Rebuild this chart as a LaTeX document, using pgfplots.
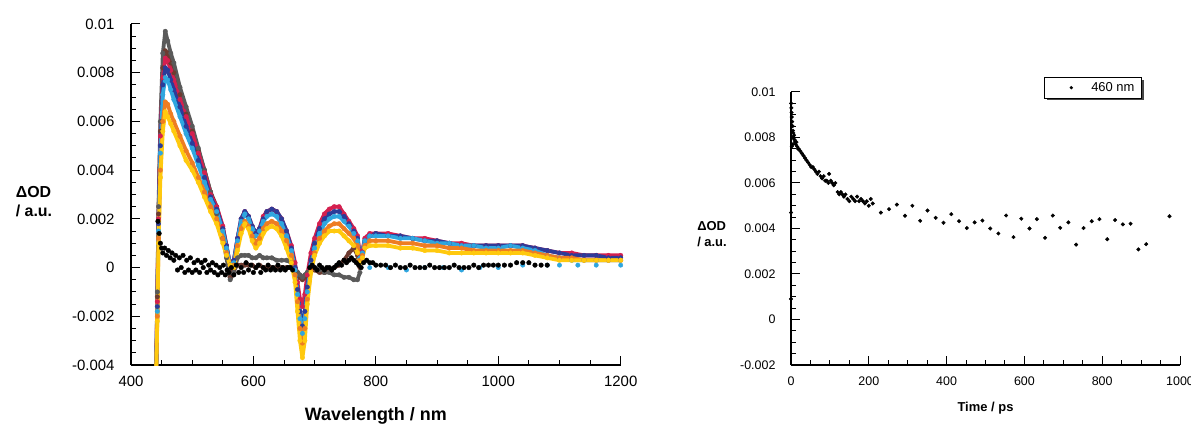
\documentclass[border=0pt]{standalone}
\usepackage{fontspec}
\setmainfont{Liberation Sans}
\usepackage{pgfplots}
\pgfplotsset{compat=1.18}
\usepackage{pgfplotstable}
\usetikzlibrary{shadows}

\definecolor{cgray}{HTML}{5A5A5A}
\definecolor{cbrown}{HTML}{6E3B30}
\definecolor{cred}{HTML}{D4204F}
\definecolor{cblue}{HTML}{2B3C99}
\definecolor{ccyan}{HTML}{2FA6DF}
\definecolor{corange}{HTML}{EE7D22}
\definecolor{cyellow}{HTML}{FFC90E}

% transient spectra, Delta OD vs wavelength (nm)
\pgfplotstableread{
x     gray     brown    red      blue     cyan     orange   yellow
441  -0.0045  -0.0045  -0.0045  -0.0045  -0.0045  -0.0045  -0.0045
443  -0.0010  -0.0012  -0.0014  -0.0016  -0.0018  -0.0020  -0.0022
445   0.0025   0.0022   0.0020   0.0018   0.0015   0.0012   0.0010
448   0.0060   0.0056   0.0054   0.0050   0.0047   0.0040   0.0037
452   0.0088   0.0082   0.0078   0.0075   0.0071   0.0060   0.0056
456   0.0097   0.0089   0.0086   0.0082   0.0078   0.0068   0.0064
460   0.0093   0.0088   0.0085   0.0081   0.0077   0.0067   0.0062
465   0.0088   0.0084   0.0081   0.0077   0.0073   0.0063   0.0059
470   0.0084   0.0080   0.0077   0.0073   0.0069   0.0060   0.0056
480   0.0074   0.0071   0.0069   0.0066   0.0062   0.0054   0.0050
490   0.0066   0.0063   0.0062   0.0058   0.0055   0.0048   0.0044
500   0.0058   0.0056   0.0055   0.0051   0.0049   0.0043   0.0040
510   0.0049   0.0048   0.0047   0.0044   0.0042   0.0037   0.0035
520   0.0040   0.0040   0.0039   0.0037   0.0035   0.0031   0.0029
530   0.0031   0.0031   0.0030   0.0029   0.0028   0.0025   0.0023
540   0.0022   0.0025   0.0025   0.0024   0.0023   0.0020   0.0018
550   0.0012   0.0016   0.0017   0.0016   0.0015   0.0012   0.0010
556   0.0004   0.0008   0.0009   0.0009   0.0008   0.0006   0.0005
562  -0.0005  -0.0004   0.0001   0.0001   0.0001   0.0001   0.0001
568  -0.0002  -0.0001   0.0003   0.0003   0.0002   0.0001   0.0000
574   0.0004   0.0001   0.0012   0.0012   0.0011   0.0009   0.0007
580   0.0005   0.0001   0.0020   0.0020   0.0019   0.0016   0.0014
586   0.0005   0.0001   0.0023   0.0023   0.0022   0.0019   0.0018
592   0.0005   0.0001   0.0021   0.0021   0.0020   0.0017   0.0016
598   0.0004   0.0001   0.0017   0.0017   0.0016   0.0013   0.0011
604   0.0004   0.0000   0.0014   0.0014   0.0013   0.0010   0.0008
610   0.0005   0.0001   0.0016   0.0016   0.0015   0.0012   0.0010
616   0.0004   0.0000   0.0021   0.0020   0.0019   0.0016   0.0014
622   0.0004   0.0000   0.0023   0.0023   0.0021   0.0018   0.0016
630   0.0004   0.0000   0.0024   0.0024   0.0022   0.0019   0.0017
638   0.0003   0.0000   0.0023   0.0023   0.0021   0.0018   0.0016
646   0.0003   0.0000   0.0020   0.0020   0.0018   0.0015   0.0013
654   0.0003   0.0000   0.0015   0.0015   0.0013   0.0011   0.0008
662   0.0002   0.0000   0.0009   0.0008   0.0007   0.0005   0.0002
668   0.0000  -0.0001   0.0002   0.0000  -0.0001  -0.0003  -0.0006
672  -0.0002  -0.0002  -0.0006  -0.0009  -0.0011  -0.0014  -0.0018
676  -0.0003  -0.0004  -0.0013  -0.0018  -0.0021  -0.0025  -0.0030
680  -0.0004  -0.0005  -0.0016  -0.0024  -0.0027  -0.0031  -0.0037
684  -0.0003  -0.0004  -0.0011  -0.0018  -0.0021  -0.0025  -0.0030
688  -0.0002  -0.0002  -0.0003  -0.0008  -0.0010  -0.0013  -0.0015
694  -0.0001  -0.0001   0.0006   0.0003   0.0001  -0.0001  -0.0002
700   0.0000  -0.0001   0.0012   0.0010   0.0008   0.0006   0.0005
708  -0.0001  -0.0002   0.0018   0.0016   0.0014   0.0012   0.0010
716  -0.0002  -0.0002   0.0022   0.0020   0.0018   0.0015   0.0013
724  -0.0002  -0.0001   0.0024   0.0022   0.0020   0.0017   0.0015
732  -0.0003   0.0000   0.0025   0.0023   0.0021   0.0018   0.0015
740  -0.0003   0.0001   0.0025   0.0023   0.0021   0.0018   0.0015
748  -0.0004   0.0003   0.0022   0.0021   0.0019   0.0016   0.0013
756  -0.0004   0.0006   0.0019   0.0018   0.0017   0.0014   0.0011
764  -0.0005   0.0008   0.0016   0.0015   0.0014   0.0012   0.0009
770  -0.0005   0.0005   0.0013   0.0012   0.0011   0.0009   0.0006
774  -0.0002   0.0000   0.0005   0.0004   0.0004   0.0003   0.0002
778   nan      nan      0.0007   0.0006   0.0006   0.0005   0.0004
782   nan      nan      0.0012   0.0011   0.0011   0.0009   0.0008
790   nan      nan      0.0014   0.0013   0.0013   0.0011   0.0009
800   nan      nan      0.0014   0.0014   0.0013   0.0011   0.0009
820   nan      nan      0.0014   0.0013   0.0013   0.0011   0.0009
840   nan      nan      0.0013   0.0013   0.0012   0.0010   0.0008
860   nan      nan      0.0012   0.0012   0.0012   0.0010   0.0008
880   nan      nan      0.0012   0.0011   0.0011   0.0009   0.0007
900   nan      nan      0.0011   0.0011   0.0010   0.0009   0.0007
920   nan      nan      0.0010   0.0010   0.0010   0.0008   0.0006
940   nan      nan      0.0010   0.0009   0.0009   0.0008   0.0006
960   nan      nan      0.0009   0.0009   0.0009   0.0007   0.0006
980   nan      nan      0.0009   0.0009   0.0008   0.0007   0.0006
1000  nan      nan      0.0009   0.0009   0.0008   0.0007   0.0006
1020  nan      nan      0.0009   0.0009   0.0009   0.0007   0.0006
1040  nan      nan      0.0009   0.0009   0.0008   0.0007   0.0006
1060  nan      nan      0.0008   0.0008   0.0007   0.0006   0.0005
1080  nan      nan      0.0007   0.0007   0.0005   0.0005   0.0004
1100  nan      nan      0.0006   0.0006   0.0004   0.0004   0.0003
1120  nan      nan      0.0006   0.0005   0.0003   0.0004   0.0003
1140  nan      nan      0.0005   0.0005   0.0003   0.0003   0.0003
1160  nan      nan      0.0005   0.0005   0.0003   0.0003   0.0003
1180  nan      nan      0.0005   0.0004   0.0003   0.0003   0.0003
1200  nan      nan      0.0005   0.0004   0.0003   0.0003   0.0003
}\spec

% earliest spectrum, scattered around zero
\pgfplotstableread{
x y
444 0.0019
446 0.0014
448 0.0010
450 0.0008
452 0.0006
455 0.0008
458 0.0005
461 0.0007
464 0.0004
467 0.0006
470 0.0003
473 0.0005
476 -0.0001
479 0.0004
482 0.0000
485 0.0005
488 -0.0002
491 0.0003
494 -0.0001
497 0.0004
500 -0.0002
503 0.0002
506 -0.0001
509 0.0003
512 -0.0002
515 0.0002
518 0.0000
521 0.0003
524 -0.0002
527 0.0001
530 -0.0001
533 0.0002
536 -0.0002
539 0.0001
542 -0.0003
545 0.0000
548 -0.0002
551 0.0001
554 -0.0003
557 -0.0001
560 -0.0002
564 0.0000
568 -0.0003
572 0.0001
576 -0.0002
580 0.0000
584 -0.0002
588 0.0002
592 -0.0001
596 0.0001
600 -0.0002
604 0.0000
608 0.0001
612 -0.0002
616 0.0000
620 -0.0001
624 0.0001
628 -0.0001
632 0.0000
636 -0.0001
640 0.0001
644 -0.0001
648 0.0000
652 -0.0001
656 0.0000
660 0.0000
664 -0.0001
692 0.0000
696 0.0001
700 0.0000
704 -0.0001
708 0.0001
712 0.0000
716 -0.0001
720 0.0000
724 0.0000
728 -0.0001
732 0.0000
736 0.0001
740 0.0002
744 0.0001
748 0.0003
752 0.0002
756 0.0003
760 0.0004
764 0.0003
768 0.0002
772 0.0001
776 0.0000
780 0.0002
785 0.0003
790 0.0002
795 0.0002
800 0.0001
808 0.0001
816 0.0001
824 0.0000
832 0.0001
840 0.0000
848 0.0000
856 0.0001
864 0.0000
872 0.0000
880 0.0000
888 0.0001
896 0.0000
904 0.0000
912 0.0000
920 0.0000
928 0.0001
936 0.0000
944 0.0000
952 0.0000
960 0.0001
968 0.0000
976 0.0001
984 0.0001
992 0.0001
1000 0.0001
1010 0.0001
1020 0.0001
1030 0.0002
1040 0.0002
1050 0.0002
1060 0.0001
1070 0.0001
1080 0.0001
}\early

\pgfplotstableread{
x y
790 0.0000
820 0.0000
850 -0.0001
880 0.0000
910 0.0000
940 -0.0001
970 0.0000
1000 0.0000
1040 0.0001
1080 0.0001
1100 0.0001
1130 0.0001
1160 0.0001
1200 0.0001
}\cyanlow

% kinetic trace at 460 nm
\pgfplotstableread{
t y
0 0.0009
0 0.0047
0.5 0.0095
1 0.0093
1.5 0.0091
2 0.0089
2 0.0076
3 0.0087
3 0.0080
4 0.0085
5 0.0083
5 0.0077
6 0.0082
7 0.0080
8 0.0081
9 0.0079
10 0.0078
12 0.0077
14 0.0078
16 0.0076
18 0.0075
20 0.0075
24 0.0074
28 0.0073
32 0.0072
36 0.0071
40 0.0070
44 0.0069
48 0.0068
52 0.0067
56 0.0067
60 0.0066
64 0.0065
68 0.0064
72 0.0065
76 0.0063
80 0.0062
84 0.0063
88 0.0061
92 0.0061
96 0.0060
98 0.0064
102 0.0061
106 0.0060
110 0.0059
114 0.0060
120 0.0056
124 0.0055
128 0.0056
132 0.0055
136 0.0054
140 0.0055
145 0.0053
150 0.0052
155 0.0054
160 0.0053
165 0.0052
170 0.0054
175 0.0052
180 0.0053
185 0.0052
190 0.0051
195 0.0052
200 0.0050
205 0.0053
210 0.0051
231 0.00470
252 0.00485
272 0.00505
293 0.00456
312 0.00500
332 0.00434
351 0.00479
372 0.00447
392 0.00425
412 0.00463
432 0.00432
452 0.00402
472 0.00427
492 0.00435
512 0.00400
533 0.00378
553 0.00457
572 0.00362
592 0.00443
613 0.00400
632 0.00441
653 0.00359
673 0.00457
692 0.00403
713 0.00427
733 0.00329
752 0.00402
773 0.00432
793 0.00441
813 0.00353
833 0.00437
853 0.00418
873 0.00421
893 0.00308
913 0.00331
973 0.00454
}\kinetic

\pgfplotsset{
  myaxis/.style={
    scale only axis,
    axis lines*=left,
    axis line style={line width=1.2bp},
    every tick/.style={black, line width=1bp},
    tick align=inside,
    major tick length=9bp,
    minor tick length=5bp,
    minor x tick num=3,
    minor y tick num=3,
    scaled y ticks=false,
    scaled x ticks=false,
  },
  spec/.style={line width=3.8bp, line join=round, mark=*, mark size=2.3bp,
    mark options={line width=0.3bp}},
}

\begin{document}
\begin{tikzpicture}
\path[use as bounding box] (0,0) rectangle (1191bp,424bp);

\begin{axis}[
  myaxis,
  at={(131bp,59bp)}, anchor=south west,
  width=489.7bp, height=341bp,
  xmin=400, xmax=1200, ymin=-0.004, ymax=0.01,
  xtick={400,600,800,1000,1200},
  xticklabels={400,600,800,1000,1200},
  ytick={-0.004,-0.002,0,0.002,0.004,0.006,0.008,0.01},
  yticklabels={-0.004,-0.002,0,0.002,0.004,0.006,0.008,0.01},
  tick label style={font=\fontsize{15}{17}\selectfont},
  yticklabel style={xshift=-13bp},
  xticklabel style={yshift=-8bp},
  xlabel={Wavelength / nm},
  ylabel={ΔOD\\/ a.u.},
  every axis x label/.style={at={(rel axis cs:0.5,0)}, anchor=base, yshift=-55bp,
    font=\bfseries\fontsize{18}{20}\selectfont},
  every axis y label/.style={at={(rel axis cs:0,0.478)}, anchor=center, xshift=-97bp,
    align=left, font=\bfseries\fontsize{16}{19}\selectfont},
]
\addplot[spec, color=cbrown]  table[x=x, y=brown]  {\spec};
\addplot[spec, color=cgray]   table[x=x, y=gray]   {\spec};
\addplot[spec, color=cred]    table[x=x, y=red]    {\spec};
\addplot[spec, color=cblue]   table[x=x, y=blue]   {\spec};
\addplot[spec, color=ccyan]   table[x=x, y=cyan]   {\spec};
\addplot[spec, color=corange] table[x=x, y=orange] {\spec};
\addplot[spec, color=cyellow] table[x=x, y=yellow] {\spec};
\addplot[only marks, mark=*, mark size=2.2bp, color=ccyan] table[x=x, y=y] {\cyanlow};
\addplot[only marks, mark=*, mark size=2.3bp, color=black] table[x=x, y=y] {\early};
\end{axis}

\begin{axis}[
  myaxis,
  at={(791bp,59bp)}, anchor=south west,
  width=389bp, height=273bp,
  xmin=0, xmax=1000, ymin=-0.002, ymax=0.01,
  xtick={0,200,400,600,800,1000},
  xticklabels={0,200,400,600,800,1000},
  ytick={-0.002,0,0.002,0.004,0.006,0.008,0.01},
  yticklabels={-0.002,0,0.002,0.004,0.006,0.008,0.01},
  tick label style={font=\fontsize{12.5}{15}\selectfont},
  yticklabel style={xshift=-12bp},
  xticklabel style={yshift=-8bp},
  xlabel={Time / ps},
  ylabel={ΔOD\\/ a.u.},
  every axis x label/.style={at={(rel axis cs:0.5,0)}, anchor=base, yshift=-46.7bp,
    font=\bfseries\fontsize{13}{15}\selectfont},
  every axis y label/.style={at={(rel axis cs:0,0.48)}, anchor=center, xshift=-79bp,
    align=left, font=\bfseries\fontsize{13}{16}\selectfont},
  legend style={at={(0.902,1.055)}, anchor=north east, draw=black, line width=0.8bp,
    fill=white, font=\fontsize{13}{15}\selectfont, inner xsep=5bp, inner ysep=3bp,
    drop shadow={shadow xshift=2.5bp, shadow yshift=-2.5bp, opacity=0.9, fill=black!80}},
  legend image code/.code={%
    \pgfpathrectangle{\pgfpoint{0bp}{-3bp}}{\pgfpoint{40bp}{6bp}}%
    \pgfusepath{use as bounding box}%
    \pgfpathcircle{\pgfpoint{22bp}{0bp}}{1.8bp}%
    \pgfsetfillcolor{black}\pgfusepath{fill}},
]
\addplot[only marks, mark=*, mark size=1.8bp, color=black] table[x=t, y=y] {\kinetic};
\addlegendentry{460 nm}
\end{axis}
\end{tikzpicture}
\end{document}
